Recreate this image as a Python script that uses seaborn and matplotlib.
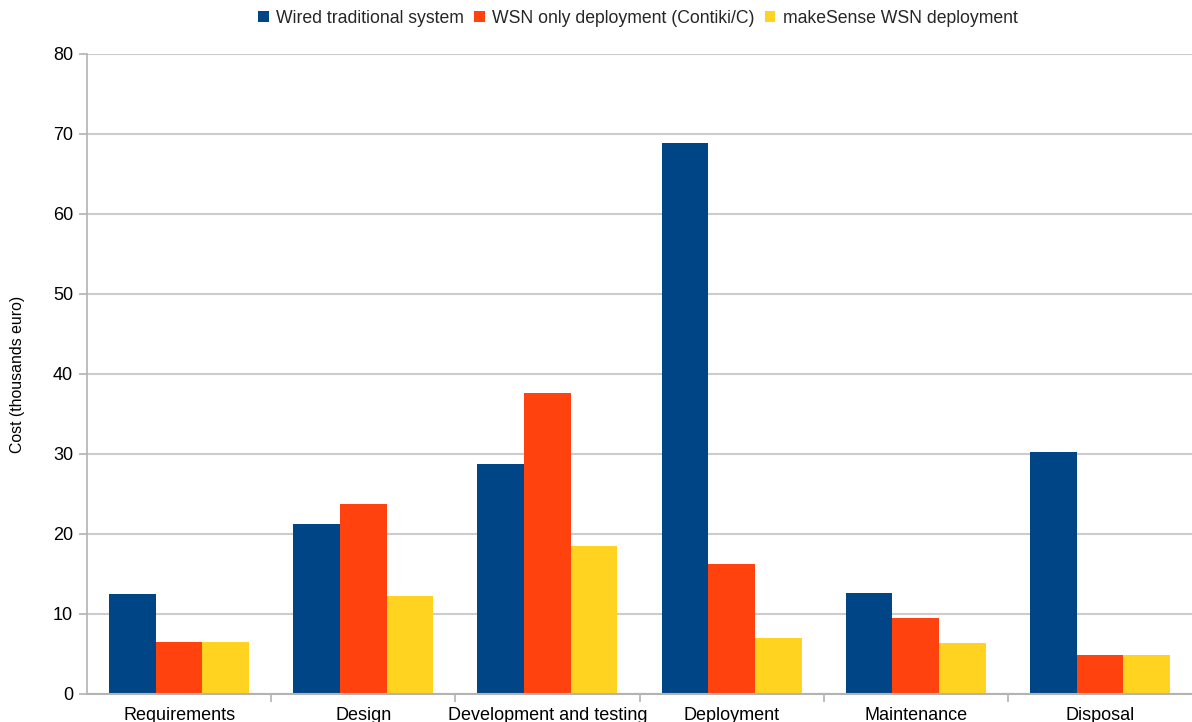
import matplotlib
matplotlib.use("Agg")
import matplotlib.pyplot as plt
import seaborn as sns
import pandas as pd
import numpy as np
from matplotlib.patches import Patch

categories = ["Requirements", "Design", "Development and testing", "Deployment", "Maintenance", "Disposal"]
series_names = ["Wired traditional system", "WSN only deployment (Contiki/C)", "makeSense WSN deployment"]
wired = [12.5, 21.3, 28.8, 68.9, 12.6, 30.3]
wsn_only = [6.5, 23.7, 37.6, 16.2, 9.5, 4.9]
makesense = [6.5, 12.25, 18.55, 7.0, 6.35, 4.9]
colors = ["#004586", "#ff420e", "#ffd320"]

rows = []
for name, vals in zip(series_names, [wired, wsn_only, makesense]):
    for c, v in zip(categories, vals):
        rows.append({"Phase": c, "Series": name, "Cost": v})
df = pd.DataFrame(rows)

sns.set_theme(style="white")
plt.rcParams['font.family'] = ['Liberation Sans', 'DejaVu Sans']

fig = plt.figure(figsize=(11.92, 7.22), dpi=100)
ax = fig.add_axes([87/1192, 28/722, (1192-87)/1192, (694-54)/722])

sns.barplot(data=df, x="Phase", y="Cost", hue="Series", order=categories,
            hue_order=series_names, palette=colors, width=0.76, gap=0,
            saturation=1, edgecolor="none", linewidth=0, ax=ax, legend=False,
            errorbar=None)

ax.set_ylim(0, 80)
ax.set_xlim(-0.5, 5.5)
ax.set_yticks(np.arange(0, 81, 10))
ax.yaxis.grid(True, color="#cccccc", linewidth=1.5)
ax.set_axisbelow(True)
ax.set_xlabel("")
ax.set_ylabel("Cost (thousands euro)", fontsize=11.4, color="#000000", labelpad=20)

for s in ["top", "right"]:
    ax.spines[s].set_visible(False)
ax.spines["left"].set_color("#b3b3b3")
ax.spines["left"].set_linewidth(1.2)
ax.spines["bottom"].set_color("#b3b3b3")
ax.spines["bottom"].set_linewidth(1.5)

ax.tick_params(axis="y", which="major", left=True, length=6, width=1.2, color="#b3b3b3",
               labelsize=13, labelcolor="#000000", pad=4)
ax.tick_params(axis="x", which="major", bottom=False, length=0, labelsize=13, labelcolor="#000000", pad=9)
ax.set_xticks(np.arange(0.5, 5.0, 1.0), minor=True)
ax.tick_params(axis="x", which="minor", bottom=True, length=6, width=1.2, color="#b3b3b3")

handles = [Patch(facecolor=c, edgecolor="none") for c in colors]
fig.legend(handles, series_names, loc="center", bbox_to_anchor=(0.535, 0.975), ncol=3,
           frameon=False, fontsize=12.7, handlelength=0.6, handleheight=0.6,
           handletextpad=0.4, columnspacing=0.6)

fig.savefig("out.png", dpi=100)
